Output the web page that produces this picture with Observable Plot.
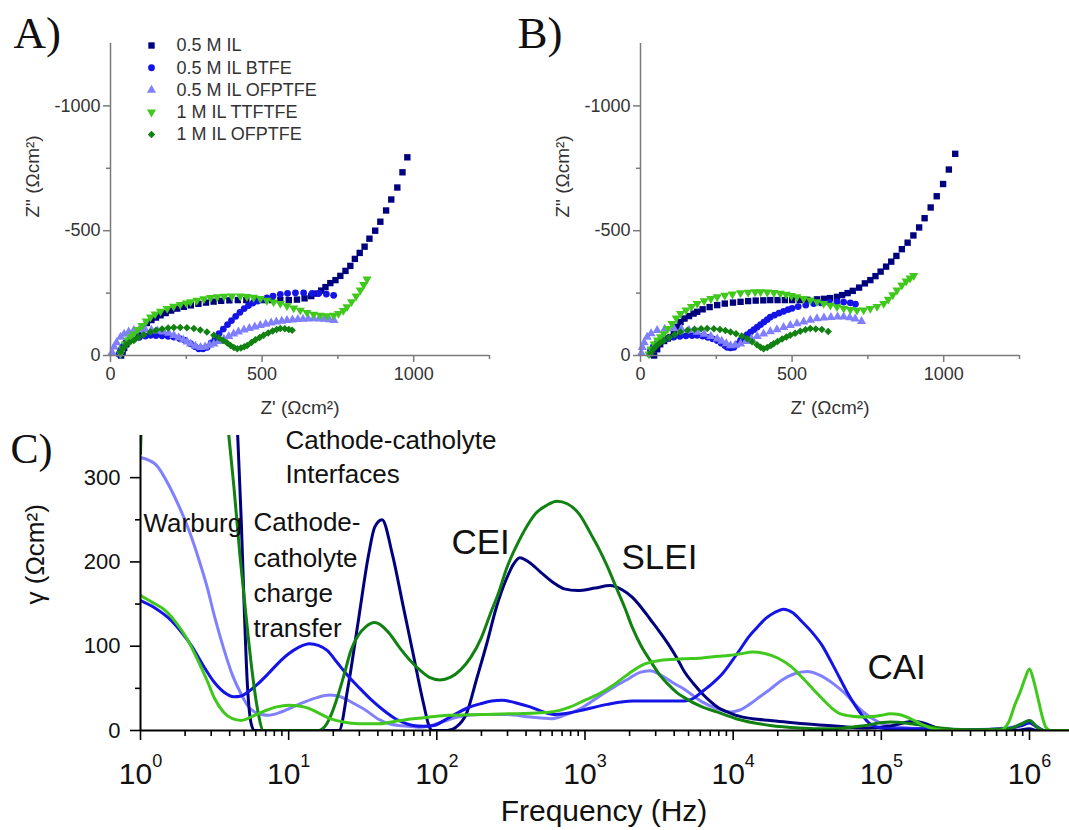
<!DOCTYPE html>
<html><head><meta charset="utf-8">
<script src="https://cdn.jsdelivr.net/npm/d3@7"></script>
<script src="https://cdn.jsdelivr.net/npm/@observablehq/plot@0.6"></script>
<style>
body{margin:0;background:#fff;}
#fig{position:relative;width:1069px;height:830px;overflow:hidden;background:#fff;}
#fig > div{position:absolute;}
#fig svg{overflow:visible;max-width:none;}
</style></head><body>
<div id="fig"><div id="pa" style="left:0;top:0"></div><div id="pb" style="left:505px;top:0"></div><div id="pc" style="left:0;top:420px"></div></div>
<script>
// ---------- series meta ----------
const seriesNames = ["0.5 M IL", "0.5 M IL BTFE", "0.5 M IL OFPTFE", "1 M IL TTFTFE", "1 M IL OFPTFE"];
const seriesColors = ["#00007f", "#1414e6", "#8080ff", "#40c81c", "#118211"];
const seriesSymbols = ["square", "circle", "triangle", "triangle", "diamond2"];
const seriesRotate = [0, 0, 0, 180, 0];
const seriesR = [3.6, 3.4, 3.4, 3.4, 3.4];

// ---------- Panel A: Nyquist  [Z' (Ωcm²), -Z'' (Ωcm²)] ----------
const A_IL = [[35,0],[40,15],[45,30],[52,45],[60,58],[70,72],[80,84],[92,98],[105,115],[120,130],[135,142],[150,152],[165,161],[182,170],[200,180],[220,188],[242,195],[265,201],[290,207],[315,212],[340,216],[365,219],[392,221],[420,222],[448,222],[476,222],[504,222],[532,222],[560,222],[588,222],[615,224],[640,229],[662,238],[680,248],[695,260],[709,274],[725,290],[742,302],[758,319],[775,339],[791,359],[806,387],[822,411],[838,436],[854,468],[873,500],[890,536],[909,581],[926,625],[946,673],[963,734],[979,794]];
const A_BTFE = [[28,5],[33,20],[40,35],[50,50],[62,60],[77,67],[95,73],[115,78],[132,81],[150,80],[170,79],[190,77],[209,74],[228,68],[246,60],[264,47],[278,36],[291,27],[305,27],[319,33],[332,50],[345,68],[358,88],[372,106],[386,124],[399,140],[413,157],[427,173],[441,188],[455,200],[470,210],[485,218],[500,225],[516,231],[536,238],[560,245],[584,249],[610,251],[637,251],[665,249],[687,249],[712,246],[736,241]];
const A_OFPTFE = [[5,13],[12,35],[20,52],[33,74],[45,86],[60,95],[77,101],[95,103],[115,103],[135,102],[155,99],[175,95],[192,90],[209,81],[225,72],[240,63],[253,55],[264,47],[280,38],[297,33],[312,35],[327,42],[341,47],[358,57],[374,66],[390,77],[406,87],[422,95],[440,103],[458,109],[476,115],[494,121],[512,126],[530,131],[547,135],[565,138],[582,141],[600,143],[618,145],[635,146],[652,147],[670,148],[688,147],[705,146],[722,144],[737,141]];
const A_TTFTFE = [[33,7],[40,25],[48,45],[57,62],[67,75],[77,87],[90,104],[104,120],[118,138],[132,154],[147,166],[165,177],[187,188],[208,197],[230,204],[250,210],[264,215],[285,221],[308,227],[330,232],[352,235],[375,237],[400,238],[428,238],[450,236],[472,233],[494,228],[516,221],[538,214],[560,208],[582,199],[604,190],[626,181],[648,172],[670,165],[692,161],[714,159],[736,161],[752,168],[768,180],[780,195],[795,215],[810,238],[824,262],[835,284],[846,306]];
const A_OFPTFE1M = [[33,13],[40,28],[50,42],[62,52],[77,60],[92,72],[110,83],[132,94],[150,101],[170,106],[190,110],[209,112],[230,112],[252,111],[275,108],[296,102],[318,94],[341,81],[358,70],[372,60],[385,50],[396,40],[407,32],[418,27],[430,30],[441,35],[451,40],[465,52],[478,63],[492,72],[505,81],[520,90],[535,98],[548,104],[560,108],[575,107],[588,104],[599,101]];

// ---------- Panel B: Nyquist ----------
const B_IL = [[45,0],[55,25],[65,45],[78,58],[90,68],[99,74],[110,95],[120,115],[132,134],[145,148],[160,158],[175,168],[187,175],[205,185],[228,194],[253,202],[278,208],[305,212],[330,215],[355,218],[380,220],[405,221],[428,222],[452,222],[476,222],[500,222],[525,222],[550,223],[582,225],[605,227],[625,230],[648,235],[665,242],[683,250],[700,259],[721,272],[740,289],[758,302],[775,318],[792,336],[810,356],[827,376],[844,399],[862,426],[881,452],[900,481],[919,513],[937,550],[957,593],[977,638],[998,687],[1017,745],[1038,808]];
const B_BTFE = [[30,5],[33,20],[42,35],[54,48],[66,60],[85,68],[110,74],[130,77],[150,79],[170,80],[187,81],[205,78],[222,73],[238,67],[253,60],[266,50],[278,40],[286,33],[297,31],[308,33],[318,45],[330,60],[341,74],[352,84],[363,94],[374,104],[385,114],[396,124],[407,134],[418,144],[428,154],[442,162],[457,170],[472,177],[487,184],[500,189],[520,196],[545,202],[571,208],[595,211],[622,213],[648,215],[670,214],[692,211],[709,206]];
const B_OFPTFE = [[3,10],[6,33],[12,52],[22,74],[35,88],[55,101],[80,106],[110,108],[135,106],[160,101],[187,94],[210,86],[232,77],[253,67],[268,58],[283,48],[297,40],[313,42],[330,47],[348,57],[366,67],[385,77],[406,87],[428,96],[450,104],[472,113],[494,121],[516,128],[538,135],[560,142],[582,148],[605,151],[628,153],[650,155],[670,155],[690,152],[708,147],[729,137]];
const B_TTFTFE = [[28,5],[35,25],[45,45],[56,62],[66,75],[77,87],[90,108],[104,128],[118,150],[132,168],[150,182],[168,196],[187,208],[210,219],[232,228],[253,235],[278,241],[303,246],[330,251],[355,253],[378,255],[396,255],[418,254],[440,252],[461,249],[480,245],[498,240],[516,235],[538,228],[560,222],[582,215],[604,208],[626,201],[648,195],[670,189],[692,184],[714,181],[736,182],[758,188],[780,196],[802,208],[817,225],[832,243],[846,262],[862,282],[876,298],[889,310],[901,320]];
const B_OFPTFE1M = [[33,7],[42,25],[52,38],[64,50],[77,60],[95,72],[113,84],[132,94],[155,101],[178,105],[200,107],[220,108],[242,107],[262,104],[280,100],[297,94],[315,87],[334,78],[352,67],[368,55],[384,43],[396,33],[406,27],[418,32],[430,40],[439,47],[452,56],[467,66],[481,74],[494,81],[510,89],[527,97],[544,103],[560,108],[578,106],[598,104],[619,96]];

// ---------- Panel C: DRT  [log10(f / Hz), γ (Ωcm²)] ----------
const C_IL = [[0.60,600],[0.63,480],[0.656,350],[0.68,249],[0.70,146],[0.72,59],[0.75,6],[0.77,0],[1.0,0],[1.34,0],[1.40,51],[1.47,130],[1.54,209],[1.58,241],[1.63,250],[1.70,209],[1.77,150],[1.84,91],[1.91,32],[1.95,4],[1.97,0],[2.07,0],[2.13,4],[2.20,20],[2.27,62],[2.34,105],[2.40,145],[2.47,180],[2.52,198],[2.56,205],[2.62,200],[2.70,188],[2.79,175],[2.86,168],[2.95,166],[3.07,169],[3.17,172],[3.25,167],[3.32,158],[3.38,146],[3.44,132],[3.50,118],[3.56,103],[3.62,86],[3.67,70],[3.73,56],[3.79,44],[3.85,34],[3.90,27],[3.96,22],[4.02,18],[4.13,14],[4.25,12],[4.48,8],[4.71,5],[4.90,3],[5.05,5],[5.15,9],[5.22,11],[5.30,8],[5.40,2],[5.55,0],[5.90,0],[6.0,2],[6.05,0],[6.27,0]];
const C_BTFE = [[0,154],[0.1,145],[0.21,130],[0.28,116],[0.35,99],[0.42,78],[0.49,59],[0.56,46],[0.63,40],[0.68,41],[0.72,45],[0.79,55],[0.86,67],[0.93,80],[1.0,91],[1.07,99],[1.14,103],[1.20,101],[1.26,95],[1.33,80],[1.40,65],[1.48,50],[1.56,36],[1.64,24],[1.72,14],[1.78,9],[1.84,6],[1.91,5],[1.98,6],[2.05,12],[2.12,19],[2.21,27],[2.30,32],[2.37,35],[2.44,36],[2.53,33],[2.63,28],[2.72,22],[2.80,19],[2.90,21],[3.0,25],[3.15,31],[3.32,35],[3.5,35],[3.67,35],[3.73,38],[3.79,46],[3.86,56],[3.93,68],[3.99,82],[4.05,97],[4.10,110],[4.16,122],[4.22,133],[4.28,140],[4.34,144],[4.40,140],[4.46,130],[4.53,117],[4.60,101],[4.66,82],[4.72,62],[4.78,42],[4.83,28],[4.88,16],[4.93,7],[5.0,3],[5.06,2],[5.3,2],[5.6,1],[5.85,2],[5.95,6],[6.0,9],[6.05,4],[6.1,0],[6.27,0]];
const C_OFPTFE = [[0,324],[0.1,316],[0.2,288],[0.27,262],[0.33,236],[0.39,205],[0.45,170],[0.50,135],[0.56,98],[0.62,66],[0.68,43],[0.73,28],[0.77,22],[0.82,19],[0.86,18],[0.95,22],[1.03,28],[1.11,34],[1.19,39],[1.28,42],[1.35,40],[1.44,32],[1.52,24],[1.61,13],[1.68,8],[1.74,6],[1.81,5],[1.88,4],[1.94,5],[2.0,8],[2.07,12],[2.14,16],[2.3,19],[2.47,19],[2.63,16],[2.77,14],[2.86,18],[2.98,27],[3.10,41],[3.20,52],[3.30,62],[3.37,69],[3.44,71],[3.52,65],[3.60,56],[3.67,49],[3.79,34],[3.89,26],[3.98,22],[4.04,24],[4.11,31],[4.18,40],[4.25,49],[4.33,60],[4.41,67],[4.50,70],[4.58,66],[4.68,55],[4.76,43],[4.84,28],[4.90,19],[4.95,13],[5.02,7],[5.13,4],[5.3,2],[5.6,1],[5.85,3],[5.95,8],[6.0,12],[6.05,5],[6.1,0],[6.27,0]];
const C_TTFTFE = [[0,160],[0.08,152],[0.17,142],[0.24,128],[0.31,110],[0.38,86],[0.45,59],[0.50,38],[0.56,22],[0.62,14],[0.68,12],[0.77,18],[0.85,24],[0.92,28],[1.0,30],[1.07,29],[1.14,26],[1.21,20],[1.28,14],[1.37,10],[1.47,8],[1.61,8],[1.72,11],[1.84,14],[1.95,16],[2.07,18],[2.3,19],[2.53,20],[2.77,22],[2.9,28],[3.0,36],[3.10,44],[3.20,55],[3.30,68],[3.39,78],[3.47,82],[3.56,84],[3.67,85],[3.79,86],[3.9,88],[3.97,89],[4.05,91],[4.13,93],[4.22,91],[4.30,86],[4.39,76],[4.46,64],[4.54,49],[4.61,36],[4.67,26],[4.72,20],[4.80,17],[4.90,16],[5.0,18],[5.06,20],[5.12,19],[5.17,16],[5.23,11],[5.29,6],[5.35,2],[5.45,0],[5.80,0],[5.86,10],[5.90,30],[5.94,47],[5.97,62],[6.0,73],[6.03,58],[6.06,36],[6.09,14],[6.11,4],[6.14,0],[6.27,0]];
const C_OFPTFE1M = [[0,328],[0.02,420],[0.55,420],[0.596,350],[0.63,290],[0.67,210],[0.71,140],[0.75,75],[0.79,25],[0.83,0],[1.20,0],[1.25,6],[1.29,20],[1.33,40],[1.38,70],[1.42,95],[1.47,113],[1.52,123],[1.58,128],[1.63,124],[1.68,115],[1.75,98],[1.82,83],[1.89,71],[1.95,63],[2.02,60],[2.09,63],[2.16,72],[2.23,87],[2.30,110],[2.36,138],[2.42,165],[2.47,192],[2.54,220],[2.61,243],[2.67,258],[2.74,267],[2.81,272],[2.88,269],[2.96,257],[3.04,233],[3.09,217],[3.15,195],[3.21,170],[3.27,145],[3.32,122],[3.38,100],[3.44,83],[3.50,67],[3.56,55],[3.62,45],[3.67,39],[3.79,28],[3.89,22],[4.02,14],[4.25,6],[4.45,3],[4.65,2],[4.85,5],[5.06,10],[5.2,8],[5.35,4],[5.6,1],[5.85,2],[5.95,8],[6.0,12],[6.05,4],[6.1,0],[6.27,0]];

// ---------- ticks ----------
const nyqXTicks = [0, 500, 1000];
const nyqXMinor = [250, 750, 1250];
const nyqYTicks = [0, -500, -1000];
const nyqYMinor = [-250, -750];
const drtYTicks = [0, 100, 200, 300];
const drtYMinor = [50, 150, 250];
const drtXTicks = [1, 10, 100, 1000, 10000, 100000, 1000000];

// ---------- styles ----------
const SANS = "'Liberation Sans', Arial, Helvetica, sans-serif";
const SERIF = "'Liberation Serif', 'Times New Roman', serif";
const AXG = "#7a7a7a", TXG = "#333";

function nyquist(series, panelLabel, opts) {
  const marks = [
    ...series.map((data, i) => Plot.dot(data, {x: d => d[0], y: d => -d[1], symbol: seriesSymbols[i], rotate: seriesRotate[i], r: seriesR[i], fill: seriesColors[i]})),
    Plot.ruleX([0], {stroke: AXG, strokeWidth: 1.5}),
    Plot.ruleY([0], {stroke: AXG, strokeWidth: 1.5}),
    Plot.axisX(nyqXTicks, {tickSize: 7, tickPadding: 5, tickFormat: d => String(d), stroke: AXG, strokeWidth: 1.5, fill: TXG, fontSize: 18, fontFamily: SANS, label: null}),
    Plot.axisX(nyqXMinor, {tickSize: 4, tickFormat: () => "", stroke: AXG, strokeWidth: 1.5, label: null}),
    Plot.axisY(nyqYTicks, {tickSize: 7, tickPadding: 3, tickFormat: d => String(d), stroke: AXG, strokeWidth: 1.5, fill: TXG, fontSize: 18, fontFamily: SANS, label: null}),
    Plot.axisY(nyqYMinor, {tickSize: 4, tickFormat: () => "", stroke: AXG, strokeWidth: 1.5, label: null}),
    Plot.text(["Z' (Ωcm²)"], {frameAnchor: "bottom", dy: 58, lineAnchor: "bottom", fontSize: 19, fontFamily: SANS, fill: TXG}),
    Plot.text(['Z" (Ωcm²)'], {frameAnchor: "left", rotate: -90, dx: -78, dy: 18, fontSize: 19, fontFamily: SANS, fill: TXG}),
    Plot.text([panelLabel], {frameAnchor: "top-left", dx: opts.labelDx, dy: 4, textAnchor: "start", lineAnchor: "bottom", fontSize: 45, fontFamily: SERIF, fill: "#111"})
  ];
  if (opts.legend) {
    seriesNames.forEach((name, i) => {
      marks.push(Plot.dot([name], {frameAnchor: "top-left", dx: 41, dy: 2 + 22.25 * i, symbol: seriesSymbols[i], rotate: seriesRotate[i], r: seriesR[i], fill: seriesColors[i]}));
      marks.push(Plot.text([name], {frameAnchor: "top-left", dx: 66, dy: 2 + 22.25 * i, textAnchor: "start", lineAnchor: "middle", fontSize: 18, fontFamily: SANS, fill: TXG}));
    });
  }
  return Plot.plot({
    width: opts.width, height: 420,
    marginLeft: opts.marginLeft, marginRight: opts.marginRight, marginTop: 43, marginBottom: 65,
    x: {domain: [0, 1250]},
    y: {domain: [0, -1250]},
    style: {fontFamily: SANS, background: "transparent", overflow: "visible"},
    marks
  });
}

document.getElementById("pa").appendChild(
  nyquist([A_IL, A_BTFE, A_OFPTFE, A_TTFTFE, A_OFPTFE1M], "A)", {width: 530, marginLeft: 110, marginRight: 41, labelDx: -97, legend: true})
);
document.getElementById("pb").appendChild(
  nyquist([B_IL, B_BTFE, B_OFPTFE, B_TTFTFE, B_OFPTFE1M], "B)", {width: 564, marginLeft: 135, marginRight: 50, labelDx: -123, legend: false})
);

// ---------- Panel C ----------
const drtSeries = [C_OFPTFE, C_IL, C_BTFE, C_OFPTFE1M, C_TTFTFE];
const drtColors = [seriesColors[2], seriesColors[0], seriesColors[1], seriesColors[4], seriesColors[3]];
const fMax = Math.pow(10, 6.27);
const drtXMinor = drtXTicks.flatMap(p => [2,3,4,5,6,7,8,9].map(m => m * p)).filter(v => v <= fMax);

const annotations = [
  {text: "Cathode-catholyte\nInterfaces", dx: 145, dy: 47, size: 26, lh: 1.3},
  {text: "Warburg", dx: 3, dy: 96.5, size: 26, lh: 1},
  {text: "Cathode-\ncatholyte\ncharge\ntransfer", dx: 113, dy: 201.5, size: 26, lh: 1.355},
  {text: "CEI", dx: 311, dy: 118.5, size: 35, lh: 1},
  {text: "SLEI", dx: 481, dy: 133.5, size: 35, lh: 1},
  {text: "CAI", dx: 727, dy: 243.5, size: 35, lh: 1}
];

const svgC = Plot.plot({
  width: 1069, height: 410,
  marginLeft: 140, marginRight: 0, marginTop: 15, marginBottom: 100,
  x: {type: "log", domain: [1, fMax]},
  y: {domain: [0, 350]},
  style: {fontFamily: SANS, background: "transparent", overflow: "visible"},
  marks: [
    ...drtSeries.map((data, i) => Plot.line(data, {x: d => Math.pow(10, d[0]), y: d => d[1], stroke: drtColors[i], strokeWidth: 3, curve: "monotone-x", clip: true})),
    Plot.ruleX([1], {stroke: "#000", strokeWidth: 2}),
    Plot.ruleY([0], {stroke: "#000", strokeWidth: 2}),
    Plot.axisY(drtYTicks, {tickSize: 10, tickPadding: 10, fontSize: 22, fontFamily: SANS, stroke: "#000", strokeWidth: 1.6, fill: "#111", label: null}),
    Plot.axisY(drtYMinor, {tickSize: 5, tickFormat: () => "", stroke: "#000", strokeWidth: 1.6, label: null}),
    Plot.axisX(drtXTicks, {tickSize: 10, tickPadding: 22, fontSize: 30, fontFamily: SANS, stroke: "#000", strokeWidth: 1.6, fill: "#111", label: null, tickFormat: d => "10^" + Math.round(Math.log10(d))}),
    Plot.axisX(drtXMinor, {tickSize: 6, tickFormat: () => "", stroke: "#000", strokeWidth: 1.6, label: null}),
    Plot.text(["Frequency (Hz)"], {frameAnchor: "bottom", dx: -1, dy: 90, lineAnchor: "bottom", fontSize: 30, fontFamily: SANS, fill: "#111"}),
    Plot.text(["γ (Ωcm²)"], {frameAnchor: "left", rotate: -90, dx: -105, dy: 21.5, fontSize: 26, fontFamily: SANS, fill: "#111"}),
    Plot.text(["C)"], {frameAnchor: "top-left", dx: -130, dy: 27, textAnchor: "start", lineAnchor: "bottom", fontSize: 42, fontFamily: SERIF, fill: "#111"}),
    ...annotations.map(a => Plot.text([a.text], {frameAnchor: "top-left", dx: a.dx, dy: a.dy, textAnchor: "start", lineAnchor: "bottom", lineHeight: a.lh, fontSize: a.size, fontFamily: SANS, fill: "#111"}))
  ]
});
document.getElementById("pc").appendChild(svgC);

// superscript exponents on the frequency tick labels
d3.select(svgC).selectAll('g[aria-label="x-axis tick label"] text').each(function () {
  const parts = this.textContent.split("^");
  if (parts.length === 2) {
    this.textContent = parts[0];
    d3.select(this).append("tspan").attr("dy", -17).attr("font-size", 18).text(parts[1]);
  }
});
</script>
</body></html>
